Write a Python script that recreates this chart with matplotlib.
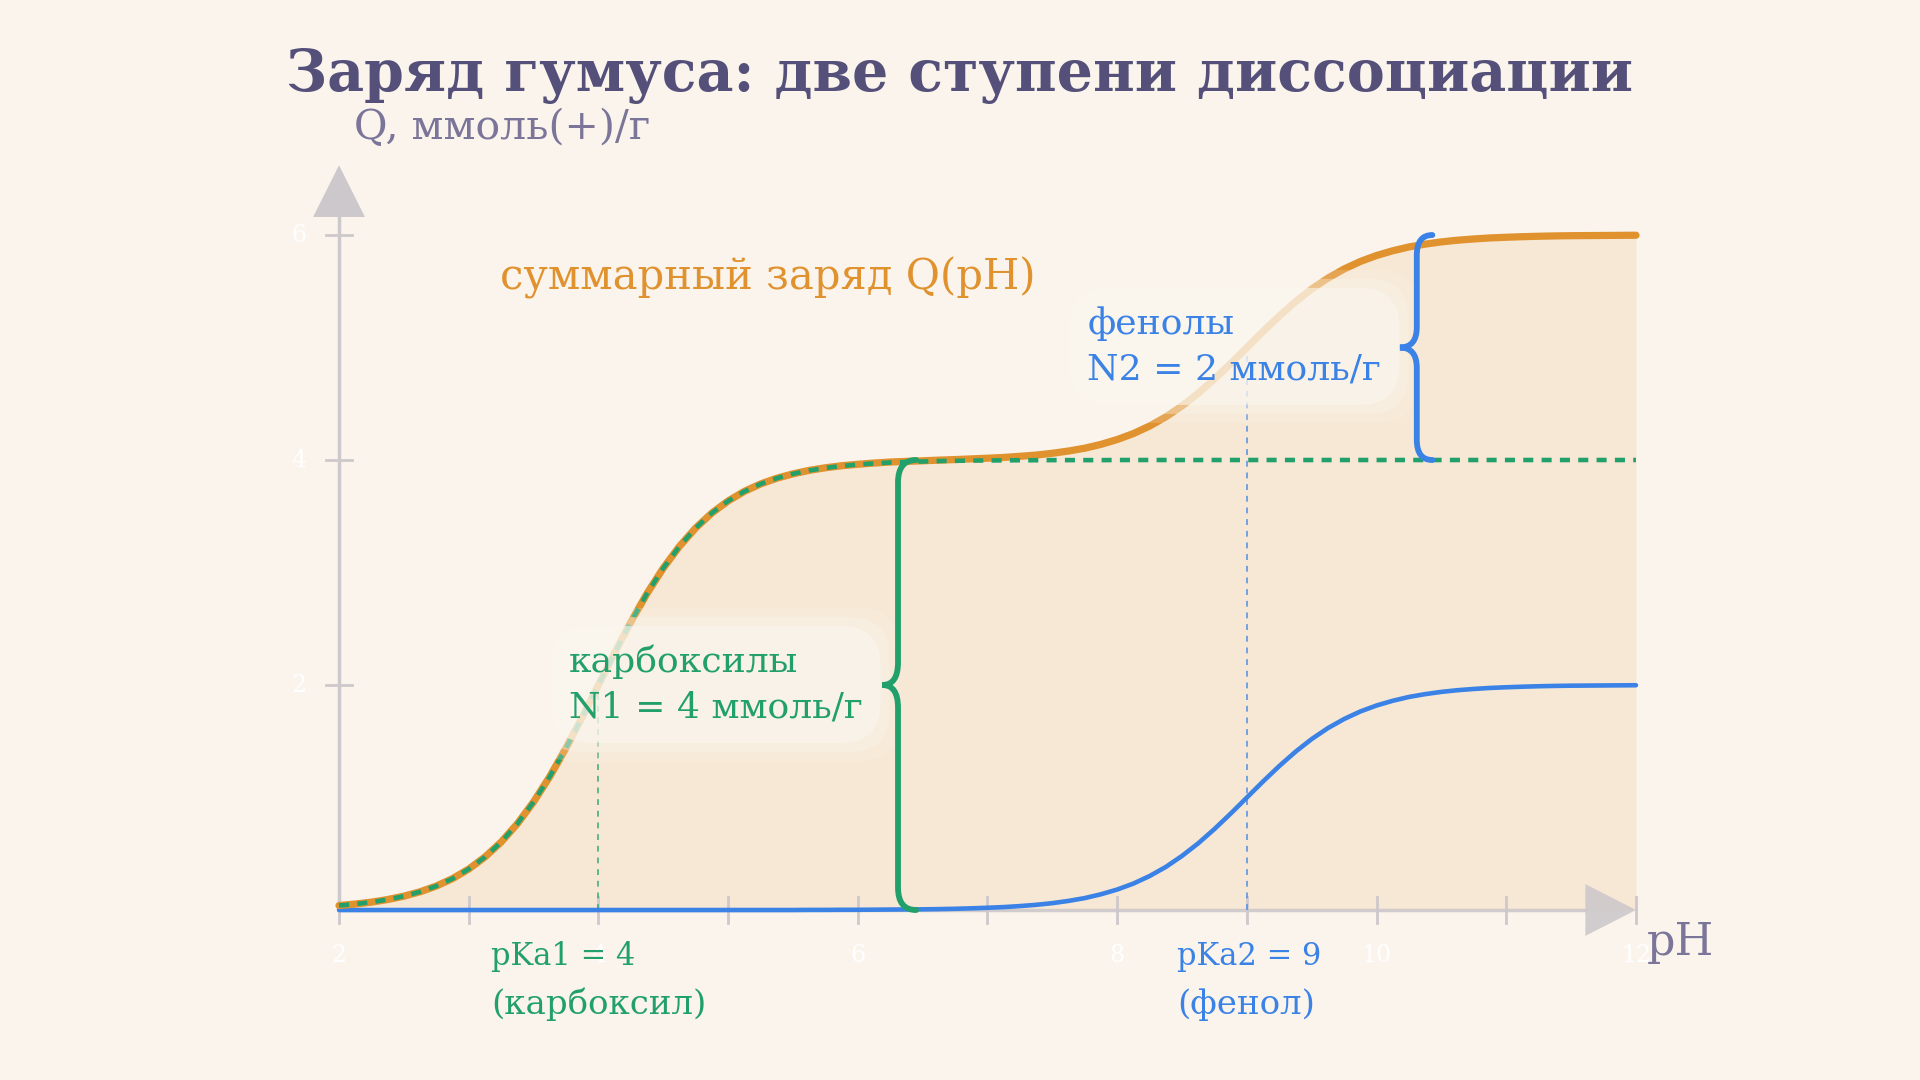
import matplotlib.pyplot as plt
from matplotlib.path import Path
from matplotlib.patches import PathPatch, Polygon

# pH grid (one row per pH unit) and charge values, ммоль(+)/г
ph = [2.0, 2.125, 2.25, 2.375, 2.5, 2.625, 2.75, 2.875,
      3.0, 3.125, 3.25, 3.375, 3.5, 3.625, 3.75, 3.875,
      4.0, 4.125, 4.25, 4.375, 4.5, 4.625, 4.75, 4.875,
      5.0, 5.125, 5.25, 5.375, 5.5, 5.625, 5.75, 5.875,
      6.0, 6.125, 6.25, 6.375, 6.5, 6.625, 6.75, 6.875,
      7.0, 7.125, 7.25, 7.375, 7.5, 7.625, 7.75, 7.875,
      8.0, 8.125, 8.25, 8.375, 8.5, 8.625, 8.75, 8.875,
      9.0, 9.125, 9.25, 9.375, 9.5, 9.625, 9.75, 9.875,
      10.0, 10.125, 10.25, 10.375, 10.5, 10.625, 10.75, 10.875,
      11.0, 11.125, 11.25, 11.375, 11.5, 11.625, 11.75, 11.875,
      12.0]
carboxyl = [0.040, 0.053, 0.070, 0.093, 0.123, 0.162, 0.213, 0.279,
            0.364, 0.471, 0.604, 0.767, 0.961, 1.186, 1.440, 1.714,
            2.000, 2.286, 2.560, 2.814, 3.039, 3.233, 3.396, 3.529,
            3.636, 3.721, 3.787, 3.838, 3.877, 3.907, 3.930, 3.947,
            3.960, 3.970, 3.978, 3.983, 3.987, 3.991, 3.993, 3.995,
            3.996, 3.997, 3.998, 3.998, 3.999, 3.999, 3.999, 3.999,
            4.0, 4.0, 4.0, 4.0, 4.0, 4.0, 4.0, 4.0,
            4.0, 4.0, 4.0, 4.0, 4.0, 4.0, 4.0, 4.0,
            4.0, 4.0, 4.0, 4.0, 4.0, 4.0, 4.0, 4.0,
            4.0, 4.0, 4.0, 4.0, 4.0, 4.0, 4.0, 4.0,
            4.0]
phenol = [0, 0, 0, 0, 0, 0, 0, 0,
          0, 0, 0, 0, 0, 0, 0, 0,
          0, 0, 0, 0, 0, 0, 0, 0,
          0, 0, 0, 0, 0, 0.001, 0.001, 0.002,
          0.002, 0.003, 0.004, 0.005, 0.006, 0.008, 0.011, 0.015,
          0.020, 0.026, 0.035, 0.046, 0.061, 0.081, 0.106, 0.140,
          0.182, 0.235, 0.302, 0.383, 0.481, 0.593, 0.720, 0.857,
          1.000, 1.143, 1.280, 1.407, 1.520, 1.617, 1.698, 1.765,
          1.818, 1.860, 1.894, 1.919, 1.939, 1.954, 1.965, 1.974,
          1.980, 1.985, 1.989, 1.992, 1.994, 1.995, 1.996, 1.997,
          1.998]
total = [0.040, 0.053, 0.070, 0.093, 0.123, 0.162, 0.213, 0.279,
         0.364, 0.471, 0.604, 0.767, 0.961, 1.186, 1.440, 1.714,
         2.000, 2.286, 2.560, 2.814, 3.039, 3.233, 3.396, 3.529,
         3.636, 3.721, 3.787, 3.838, 3.877, 3.908, 3.931, 3.949,
         3.962, 3.973, 3.982, 3.988, 3.993, 3.999, 4.004, 4.010,
         4.016, 4.023, 4.033, 4.044, 4.060, 4.080, 4.105, 4.139,
         4.182, 4.235, 4.302, 4.383, 4.481, 4.593, 4.720, 4.857,
         5.000, 5.143, 5.280, 5.407, 5.520, 5.617, 5.698, 5.765,
         5.818, 5.860, 5.894, 5.919, 5.939, 5.954, 5.965, 5.974,
         5.980, 5.985, 5.989, 5.992, 5.994, 5.995, 5.996, 5.997,
         5.998]

pka1, q_pka1 = 4, 2.0
pka2, q_pka2 = 9, 5.0
x_ticks = [2, 3, 4, 5, 6, 7, 8, 9, 10, 11, 12]
x_labels = ["2", "4", "6", "8", "10", "12"]
y_ticks = [2, 4, 6]

BG = "#faf4ed"
ORANGE = "#e0922f"
GREEN = "#22a06b"
BLUE = "#3b82e6"
TITLE = "#545079"
LABEL = "#7b7699"
AXIS = "#cdc8cb"

plt.rcParams["font.family"] = ["DejaVu Serif", "DejaVu Sans"]

fig = plt.figure(figsize=(19.2, 10.8), dpi=100, facecolor=BG)
ax = fig.add_axes([0, 0, 1, 1])
ax.set_facecolor(BG)
ax.set_xlim(-0.614, 14.19)
ax.set_ylim(-1.511, 8.089)
ax.axis("off")

# filled area under the total charge
ax.fill_between(ph, 0, total, color="#e8a450", alpha=0.15, lw=0, zorder=1)

# hand-drawn axes with arrows
ax.plot([2, 11.61], [0, 0], color=AXIS, lw=2.5, alpha=0.9, zorder=2)
ax.add_patch(Polygon([[11.61, 0.23], [12.0, 0], [11.61, -0.23]], closed=True,
                     fc=AXIS, ec="none", alpha=0.9, zorder=2))
ax.plot([2, 2], [0, 6.16], color=AXIS, lw=2.5, zorder=2)
ax.add_patch(Polygon([[1.8, 6.16], [2.0, 6.62], [2.2, 6.16]], closed=True,
                     fc=AXIS, ec="none", zorder=2))
for t in x_ticks:
    ax.plot([t, t], [-0.115, 0.115], color=AXIS, lw=2, zorder=2)
for t in y_ticks:
    ax.plot([1.9, 2.1], [t, t], color=AXIS, lw=2, zorder=2)
for lab in x_labels:
    ax.text(float(lab), -0.4, lab, color="white", fontsize=17,
            ha="center", va="center", zorder=3)
for t in y_ticks:
    ax.text(1.69, t, str(t), color="white", fontsize=17,
            ha="center", va="center", zorder=3)

# pKa guide lines
ax.plot([pka1, pka1], [0, q_pka1], color=GREEN, lw=1.4, alpha=0.7,
        dashes=(3, 3), zorder=3)
ax.plot([pka2, pka2], [0, q_pka2], color=BLUE, lw=1.4, alpha=0.7,
        dashes=(3, 3), zorder=3)

# curves
ax.plot(ph, phenol, color=BLUE, lw=3.3, zorder=4, solid_capstyle="round")
ax.plot(ph, total, color=ORANGE, lw=5.2, zorder=5, solid_capstyle="round")
ax.plot(ph, carboxyl, color=GREEN, lw=3.3, dashes=(2.2, 1.8), zorder=6)


def brace(x0, y0, y1, w_end, w_tip, r, color):
    ym = (y0 + y1) / 2
    verts = [(x0 + w_end, y1), (x0, y1), (x0, y1 - r),
             (x0, ym + r),
             (x0, ym), (x0 - w_tip, ym),
             (x0, ym), (x0, ym - r),
             (x0, y0 + r),
             (x0, y0), (x0 + w_end, y0)]
    codes = [Path.MOVETO, Path.CURVE3, Path.CURVE3, Path.LINETO,
             Path.CURVE3, Path.CURVE3, Path.CURVE3, Path.CURVE3,
             Path.LINETO, Path.CURVE3, Path.CURVE3]
    ax.add_patch(PathPatch(Path(verts, codes), fc="none", ec=color, lw=4.2,
                           capstyle="round", zorder=11))


brace(6.31, 0, 4, 0.14, 0.12, 0.2, GREEN)
brace(10.31, 4, 6, 0.12, 0.13, 0.18, BLUE)


def glow_text(x, y, s, color, size):
    # soft pale halo behind a label, built from a few translucent boxes
    for pad, a in [(1.0, 0.2), (0.75, 0.35), (0.5, 0.6)]:
        ax.text(x, y, s, ha="left", va="center", fontsize=size, color="none",
                linespacing=1.45, zorder=9,
                bbox=dict(boxstyle="round,pad=%s,rounding_size=1.1" % pad,
                          fc="#faf6ee", ec="none", alpha=a))
    ax.text(x, y, s, ha="left", va="center", fontsize=size, color=color,
            linespacing=1.45, zorder=10)


# texts
fig.text(0.5, 1 - 76 / 1080, "Заряд гумуса: две ступени диссоциации",
         ha="center", va="center", fontsize=41, fontweight="bold", color=TITLE)
ax.text(2.115, 6.95, "Q, ммоль(+)/г", ha="left", va="center",
        fontsize=29.5, color=LABEL, zorder=10)
ax.text(12.08, -0.29, "pH", ha="left", va="center", fontsize=32,
        color=LABEL, zorder=10)
ax.text(3.24, 5.62, "суммарный заряд Q(pH)", ha="left", va="center",
        fontsize=30, color=ORANGE, zorder=10)
glow_text(7.77, 5.01, "фенолы\nN2 = 2 ммоль/г", BLUE, 26)
glow_text(3.77, 2.005, "карбоксилы\nN1 = 4 ммоль/г", GREEN, 26)
ax.text(3.17, -0.41, "pKa1 = 4", ha="left", va="center",
        fontsize=22, color=GREEN, zorder=10)
ax.text(3.17, -0.84, "(карбоксил)", ha="left", va="center",
        fontsize=24.5, color=GREEN, zorder=10)
ax.text(8.46, -0.41, "pKa2 = 9", ha="left", va="center",
        fontsize=22, color=BLUE, zorder=10)
ax.text(8.46, -0.84, "(фенол)", ha="left", va="center",
        fontsize=24.5, color=BLUE, zorder=10)

fig.savefig("out.png", dpi=100, facecolor=BG)
